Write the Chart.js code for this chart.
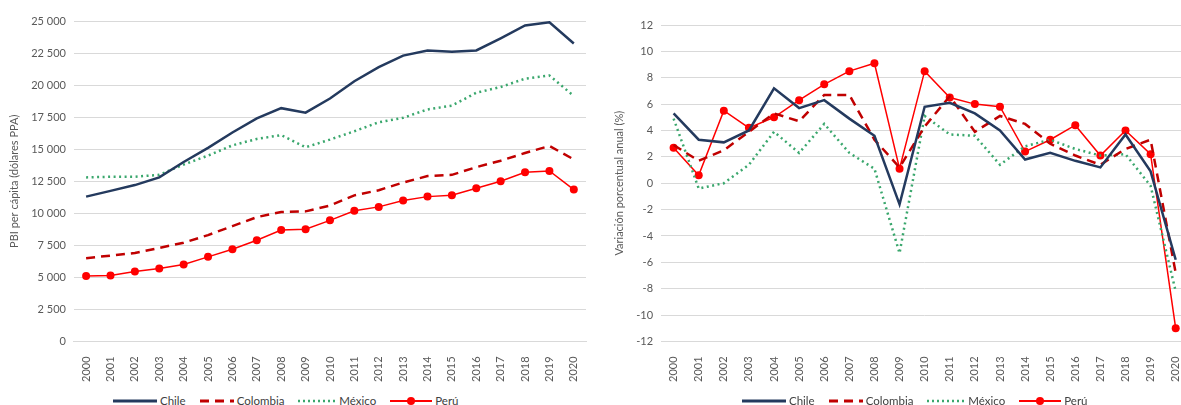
<!DOCTYPE html>
<html>
<head>
<meta charset="utf-8">
<script src="https://cdn.jsdelivr.net/npm/chart.js@4"></script>
<style>
  body { margin: 0; width: 1181px; height: 405px; overflow: hidden; background: #fff; position: relative; font-family: Lato, "Open Sans", sans-serif; }
  #boxLeft { position: absolute; left: 0; top: 0; width: 600px; height: 391px; }
  #boxRight { position: absolute; left: 596px; top: 0; width: 600px; height: 391px; }
  .legend { position: absolute; top: 394px; display: flex; align-items: center; font-size: 11.5px; color: #404040; white-space: nowrap; }
  .legend span.item { display: flex; align-items: center; margin-right: 14px; }
  .legend svg { margin-right: 3px; }
</style>
</head>
<body>
<div id="boxLeft"><canvas id="pibChart"></canvas></div>
<div id="boxRight"><canvas id="varChart"></canvas></div>
<div class="legend" id="legLeft" style="left:113px"></div>
<div class="legend" id="legRight" style="left:742px"></div>
<script>
// years on the x axis
var years = ['2000','2001','2002','2003','2004','2005','2006','2007','2008','2009','2010',
             '2011','2012','2013','2014','2015','2016','2017','2018','2019','2020'];

// PBI per capita (dolares PPA)
var pibChile    = [11300,11750,12200,12800,14000,15100,16300,17400,18200,17850,18950,20300,21400,22300,22700,22600,22700,23650,24650,24900,23250];
var pibColombia = [6500,6700,6900,7300,7700,8300,9000,9700,10100,10150,10600,11400,11800,12400,12900,13000,13600,14100,14700,15250,14200];
var pibMexico   = [12800,12850,12850,13000,13800,14500,15300,15800,16100,15150,15750,16400,17100,17450,18100,18400,19400,19850,20500,20750,19150];
var pibPeru     = [5100,5150,5450,5700,6000,6600,7200,7900,8700,8750,9450,10200,10500,11000,11300,11400,11950,12500,13200,13300,11850];

// variacion porcentual anual (%)
var varChile    = [5.3,3.3,3.1,4.0,7.2,5.7,6.3,4.9,3.6,-1.6,5.8,6.1,5.3,4.0,1.8,2.3,1.7,1.2,3.7,0.9,-5.8];
var varColombia = [2.9,1.7,2.5,3.9,5.3,4.7,6.7,6.7,3.3,1.2,4.3,6.6,3.9,5.1,4.5,3.0,2.1,1.4,2.6,3.3,-6.8];
var varMexico   = [4.9,-0.4,0.0,1.4,3.9,2.3,4.5,2.3,1.1,-5.3,5.1,3.7,3.6,1.4,2.8,3.3,2.6,2.1,2.2,-0.2,-8.2];
var varPeru     = [2.7,0.6,5.5,4.2,5.0,6.3,7.5,8.5,9.1,1.1,8.5,6.5,6.0,5.8,2.4,3.3,4.4,2.1,4.0,2.2,-11.0];

var names = ['Chile','Colombia','México','Perú'];
var navy = '#243a5e', darkRed = '#c00000', green = '#3aa76d', red = '#ff0000';
var tickColor = '#595959', gridColor = '#d9d9d9';

function makeSets(a, b, c, d){
  return [
    { label: names[0], data: a, borderColor: navy, borderWidth: 2.5, pointRadius: 0, tension: 0 },
    { label: names[1], data: b, borderColor: darkRed, borderWidth: 2.5, borderDash: [9,6], pointRadius: 0 },
    { label: names[2], data: c, borderColor: green, borderWidth: 2.5, borderDash: [2,3.5], pointRadius: 0 },
    { label: names[3], data: d, borderColor: red, backgroundColor: red, borderWidth: 1.5, pointRadius: 4, pointBorderWidth: 0 }
  ];
}

function spaced(v){
  return String(v).replace(/\B(?=(\d{3})+(?!\d))/g, ' ');
}

function baseOptions(title, min, max, step, fmt, pad){
  return {
    responsive: true,
    maintainAspectRatio: false,
    animation: false,
    layout: { padding: pad },
    plugins: { legend: { display: false }, tooltip: { enabled: false } },
    scales: {
      x: {
        offset: true,
        grid: { display: false },
        border: { color: gridColor },
        ticks: { color: tickColor, minRotation: 90, maxRotation: 90, font: { size: 11, family: 'Lato' }, padding: 7 }
      },
      y: {
        min: min, max: max,
        grid: { color: gridColor, drawTicks: false },
        border: { display: false },
        ticks: { stepSize: step, color: tickColor, font: { size: 11, family: 'Lato' }, padding: 8, callback: fmt },
        title: { display: true, text: title, color: tickColor, font: { size: 11, family: 'Lato' }, padding: 2 }
      }
    }
  };
}

new Chart(document.getElementById('pibChart'), {
  type: 'line',
  data: { labels: years, datasets: makeSets(pibChile, pibColombia, pibMexico, pibPeru) },
  options: baseOptions('PBI per cápita (dólares PPA)', 0, 25000, 2500, function(v){ return spaced(v); },
                       { top: 21, left: 6, right: 14, bottom: 2 })
});

new Chart(document.getElementById('varChart'), {
  type: 'line',
  data: { labels: years, datasets: makeSets(varChile, varColombia, varMexico, varPeru) },
  options: baseOptions('Variación porcentual anual (%)', -12, 12, 2, function(v){ return v; },
                       { top: 25, left: 15, right: 4, bottom: 2 })
});

// html legend below each chart
function sample(i){
  if (i === 0) return '<svg width="44" height="8"><line x1="0" y1="4" x2="44" y2="4" stroke="'+navy+'" stroke-width="3"/></svg>';
  if (i === 1) return '<svg width="34" height="8"><line x1="0" y1="4" x2="34" y2="4" stroke="'+darkRed+'" stroke-width="3" stroke-dasharray="9 6"/></svg>';
  if (i === 2) return '<svg width="38" height="8"><line x1="0" y1="4" x2="38" y2="4" stroke="'+green+'" stroke-width="2.5" stroke-dasharray="2 3"/></svg>';
  return '<svg width="42" height="10"><line x1="0" y1="5" x2="42" y2="5" stroke="'+red+'" stroke-width="2"/><circle cx="21" cy="5" r="4" fill="'+red+'"/></svg>';
}
['legLeft','legRight'].forEach(function(id){
  var html = '';
  names.forEach(function(n, i){ html += '<span class="item">' + sample(i) + n + '</span>'; });
  document.getElementById(id).innerHTML = html;
});
</script>
</body>
</html>
